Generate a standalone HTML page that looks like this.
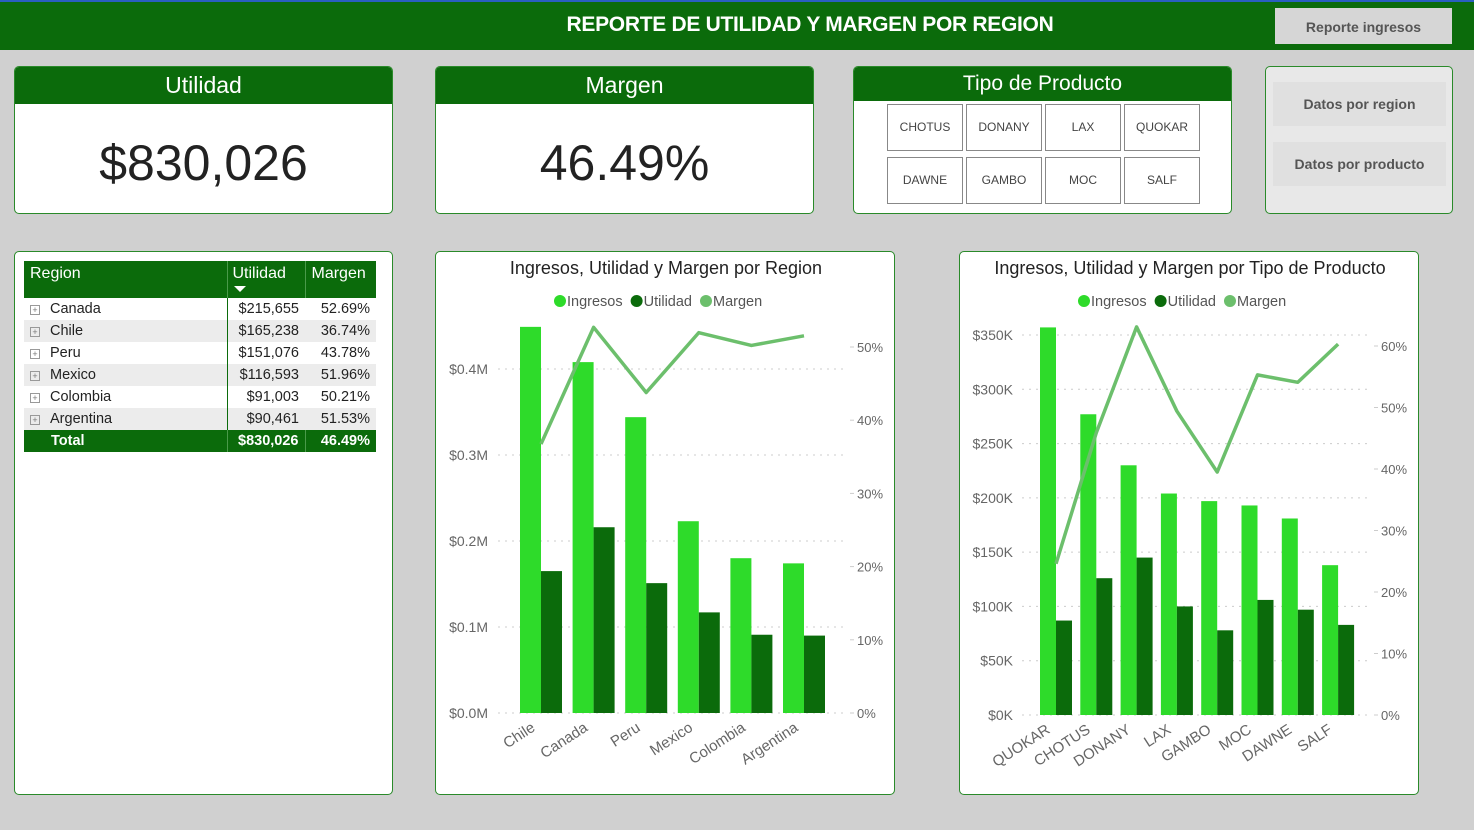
<!DOCTYPE html>
<html><head><meta charset="utf-8">
<style>
*{box-sizing:border-box;margin:0;padding:0}
body{width:1474px;height:830px;background:#d0d0d0;font-family:"Liberation Sans",sans-serif;position:relative;overflow:hidden}
.abs{position:absolute}
.card{position:absolute;background:#fff;border:1px solid #2a8a2a;border-radius:5px;overflow:hidden}
.chd{background:#0b6b0b;color:#fff;text-align:center;font-size:23px}
.btn{position:absolute;background:#e0e0e0;color:#555;font-weight:bold;font-size:14px;text-align:center}
.pb{position:absolute;width:76px;height:47px;border:1px solid #888;font-size:12px;color:#444;text-align:center;line-height:45px;background:#fff}
table{border-collapse:collapse;font-size:14.5px;color:#222}
td{height:22px;padding:0 6px}
</style></head><body>
<div class="abs" style="left:0;top:0;width:1474px;height:50px;background:#0b6b0b;border-top:2px solid #2a5fc0"></div>
<div class="abs" style="left:450px;top:13px;width:720px;text-align:center;color:#fff;font-weight:bold;font-size:21px;letter-spacing:-0.3px">REPORTE DE UTILIDAD Y MARGEN POR REGION</div>
<div class="btn" style="left:1275px;top:8px;width:177px;height:36px;line-height:38px;background:#d6d6d6">Reporte ingresos</div>

<div class="card" style="left:14px;top:66px;width:379px;height:148px">
<div class="chd" style="height:37px;line-height:37px">Utilidad</div>
<div style="text-align:center;font-size:50px;color:#222;margin-top:30px">$830,026</div></div>
<div class="card" style="left:435px;top:66px;width:379px;height:148px">
<div class="chd" style="height:37px;line-height:37px">Margen</div>
<div style="text-align:center;font-size:50px;color:#222;margin-top:30px">46.49%</div></div>
<div class="card" style="left:853px;top:66px;width:379px;height:148px">
<div class="chd" style="height:34px;line-height:34px;font-size:21px">Tipo de Producto</div>
<div class="pb" style="left:33px;top:37px">CHOTUS</div>
<div class="pb" style="left:112px;top:37px">DONANY</div>
<div class="pb" style="left:191px;top:37px">LAX</div>
<div class="pb" style="left:270px;top:37px">QUOKAR</div>
<div class="pb" style="left:33px;top:90px">DAWNE</div>
<div class="pb" style="left:112px;top:90px">GAMBO</div>
<div class="pb" style="left:191px;top:90px">MOC</div>
<div class="pb" style="left:270px;top:90px">SALF</div></div>
<div class="card" style="left:1265px;top:66px;width:188px;height:148px;background:#e8e8e8">
<div class="btn" style="left:7px;top:15px;width:173px;height:44px;line-height:44px">Datos por region</div>
<div class="btn" style="left:7px;top:75px;width:173px;height:44px;line-height:44px">Datos por producto</div></div>

<div class="card" style="left:14px;top:251px;width:379px;height:544px">
<table style="position:absolute;left:9px;top:9px;width:352px">
<tr style="background:#0b6b0b;color:#fff;font-size:16px"><td style="height:37px;width:203px;vertical-align:top;padding-top:4px">Region</td><td style="width:78px;border-left:1px solid #4a9a4a;vertical-align:top;padding:4px 5px 0">Utilidad<div style="width:0;height:0;border-left:6px solid transparent;border-right:6px solid transparent;border-top:6px solid #fff;margin:3px 0 0 1px"></div></td><td style="border-left:1px solid #4a9a4a;vertical-align:top;padding-top:4px">Margen</td></tr>
<tbody id="tb"></tbody>
<tr style="background:#0b6b0b;color:#fff;font-weight:bold"><td style="padding-left:27px">Total</td><td style="text-align:right;border-left:1px solid #4a9a4a">$830,026</td><td style="text-align:right;border-left:1px solid #4a9a4a">46.49%</td></tr>
</table></div>

<div class="card" style="left:435px;top:251px;width:460px;height:544px"><svg id="c1" width="460" height="544"></svg></div>
<div class="card" style="left:959px;top:251px;width:460px;height:544px"><svg id="c2" width="460" height="544"></svg></div>

<script>
const tRegions=["Canada","Chile","Peru","Mexico","Colombia","Argentina"];
const tUtil=["$215,655","$165,238","$151,076","$116,593","$91,003","$90,461"];
const tMarg=["52.69%","36.74%","43.78%","51.96%","50.21%","51.53%"];

const rCats=["Chile","Canada","Peru","Mexico","Colombia","Argentina"];
const rIngresos=[0.449,0.408,0.344,0.223,0.180,0.174];
const rUtilidad=[0.165,0.216,0.151,0.117,0.091,0.090];
const rMargen=[36.74,52.69,43.78,51.96,50.21,51.53];
const rLeftTicks=["$0.0M","$0.1M","$0.2M","$0.3M","$0.4M"];
const rLeftVals=[0,0.1,0.2,0.3,0.4];
const rRightVals=[0,10,20,30,40,50];

const pCats=["QUOKAR","CHOTUS","DONANY","LAX","GAMBO","MOC","DAWNE","SALF"];
const pIngresos=[357,277,230,204,197,193,181,138];
const pUtilidad=[87,126,145,100,78,106,97,83];
const pMargen=[24.6,45.9,63.1,49.4,39.5,55.3,54.1,60.3];
const pLeftTicks=["$0K","$50K","$100K","$150K","$200K","$250K","$300K","$350K"];
const pLeftVals=[0,50,100,150,200,250,300,350];
const pRightVals=[0,10,20,30,40,50,60];

const tb=document.getElementById('tb');
tRegions.forEach((r,i)=>{
 const tr=document.createElement('tr');
 
 
 tr.style.background=i%2?'#ececec':'#fff';
 tr.innerHTML='<td><span style="display:inline-block;width:10px;height:10px;border:1px solid #999;font-size:9px;line-height:8px;text-align:center;color:#777;margin-right:10px">+</span>'+r+'</td><td style="text-align:right;border-left:1px solid #0b6b0b">'+tUtil[i]+'</td><td style="text-align:right">'+tMarg[i]+'</td>';
 tb.appendChild(tr);
});

const NS="http://www.w3.org/2000/svg";
function el(svg,tag,attrs,text){const e=document.createElementNS(NS,tag);for(const k in attrs)e.setAttribute(k,attrs[k]);if(text!==undefined)e.textContent=text;svg.appendChild(e);return e;}

function chart(id,cfg){
 const s=document.getElementById(id);
 const t=el(s,'text',{x:230,y:22,'text-anchor':'middle','font-size':18,fill:'#222'},cfg.title);
 
 const leg=[["Ingresos","#2edb2a"],["Utilidad","#0b6b0b"],["Margen","#6cbf6c"]];
 let lx=cfg.legX;
 leg.forEach(([n,c])=>{
  const g=el(s,'g',{});
  
  
  el(g,'circle',{cx:lx+6,cy:49,r:6,fill:c});
  const tx=el(g,'text',{x:lx+13,y:54,'font-size':14.5,fill:'#555'},n);
  lx+=13+tx.getComputedTextLength()+8;
 });
 const yL=v=>cfg.y0-(v-cfg.lMin)*cfg.lScale;
 const yR=v=>cfg.y0-v*cfg.rScale;
 const xC=i=>cfg.x0+i*cfg.step;
 cfg.lVals.forEach((v,i)=>{
  el(s,'line',{x1:cfg.gx1,x2:cfg.gx2,y1:yL(v),y2:yL(v),stroke:'#ccc','stroke-dasharray':'2,5'});
  const tx=el(s,'text',{x:cfg.lx,y:yL(v)+5,'text-anchor':'end','font-size':14,fill:'#666'},cfg.lTicks[i]);
  
 });
 cfg.rVals.forEach(v=>{
  el(s,'line',{x1:cfg.gx2+4,x2:cfg.gx2+8,y1:yR(v),y2:yR(v),stroke:'#ccc'});
  const tx=el(s,'text',{x:cfg.rx,y:yR(v)+5,'font-size':13,fill:'#666'},v+'%');
  
 });
 cfg.cats.forEach((c,i)=>{
  const b1=el(s,'rect',{x:xC(i)-cfg.bw,y:yL(cfg.ing[i]),width:cfg.bw,height:cfg.y0-yL(cfg.ing[i]),fill:'#2edb2a'});
  
  const b2=el(s,'rect',{x:xC(i),y:yL(cfg.utl[i]),width:cfg.bw,height:cfg.y0-yL(cfg.utl[i]),fill:'#0b6b0b'});
  
  const lx2=xC(i)-5, ly2=cfg.y0+17;
  const lb=el(s,'text',{x:lx2,y:ly2,'text-anchor':'end','font-size':15,fill:'#666',transform:`rotate(-33 ${lx2} ${ly2})`},c);
  
 });
 const pts=cfg.mar.map((v,i)=>xC(i)+','+yR(v)).join(' ');
 const pl=el(s,'polyline',{points:pts,fill:'none',stroke:'#6cbf6c','stroke-width':3.5,'stroke-linejoin':'round'});
 
}
chart('c1',{title:'Ingresos, Utilidad y Margen por Region',legX:118,cats:rCats,ing:rIngresos,utl:rUtilidad,mar:rMargen,
 lVals:rLeftVals,lTicks:rLeftTicks,rVals:rRightVals,y0:461,lMin:0,lScale:860,rScale:7.32,x0:105,step:52.6,bw:21,
 gx1:62,gx2:410,lx:52,rx:421});
chart('c2',{title:'Ingresos, Utilidad y Margen por Tipo de Producto',legX:118,cats:pCats,ing:pIngresos,utl:pUtilidad,mar:pMargen,
 lVals:pLeftVals,lTicks:pLeftTicks,rVals:pRightVals,y0:463,lMin:0,lScale:1.0857,rScale:6.15,x0:96,step:40.3,bw:16,
 gx1:62,gx2:410,lx:53,rx:421});
</script>
</body></html>
